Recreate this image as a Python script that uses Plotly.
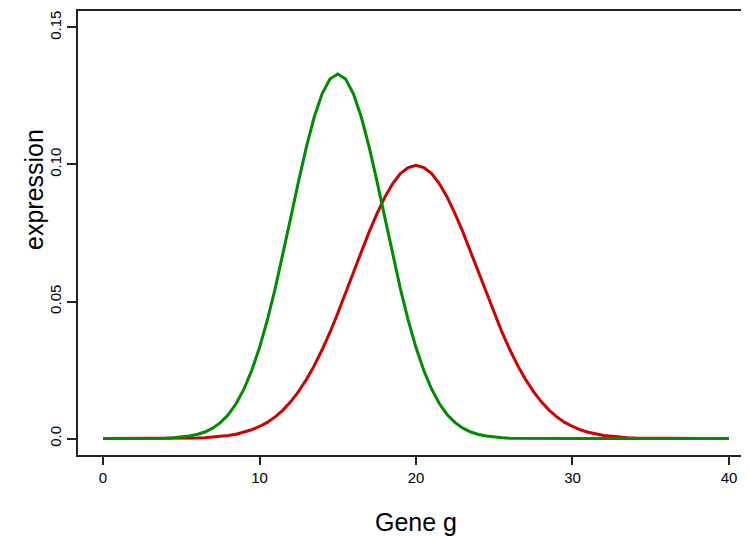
import plotly.graph_objects as go

# gene position (0 to 40, step 0.5)
gene_pos = [i * 0.5 for i in range(81)]

expr_green = [
    0.0, 0.0, 0.0, 0.0, 0.00001, 0.00002, 0.00004, 0.0001, 0.00015, 0.0003,
    0.0005, 0.0009, 0.0015, 0.0024, 0.0038, 0.0058, 0.0087, 0.0127, 0.018, 0.0248,
    0.0332, 0.0432, 0.0547, 0.0673, 0.0807, 0.0940, 0.1065, 0.1174, 0.1258, 0.1312,
    0.1330,
    0.1312, 0.1258, 0.1174, 0.1065, 0.0940, 0.0807, 0.0673, 0.0547, 0.0432, 0.0332,
    0.0248, 0.018, 0.0127, 0.0087, 0.0058, 0.0038, 0.0024, 0.0015, 0.0009, 0.0005,
    0.0003, 0.00015, 0.0001, 0.00004, 0.00002, 0.00001,
    0.0, 0.0, 0.0, 0.0, 0.0, 0.0, 0.0, 0.0, 0.0, 0.0, 0.0, 0.0,
    0.0, 0.0, 0.0, 0.0, 0.0, 0.0, 0.0, 0.0, 0.0, 0.0, 0.0, 0.0,
]

expr_red = [
    0.0, 0.0, 0.0, 0.0, 0.0, 0.0,
    0.00001, 0.00002, 0.00003, 0.00005, 0.0001, 0.00014, 0.0002, 0.0003, 0.0005, 0.0008,
    0.0011, 0.0016, 0.0023, 0.0032, 0.0044, 0.0059, 0.0079, 0.0104, 0.0135, 0.0172,
    0.0216, 0.0266, 0.0324, 0.0387, 0.0457, 0.0529, 0.0605, 0.0680, 0.0753, 0.0820,
    0.0880, 0.0929, 0.0967, 0.0989, 0.0997,
    0.0989, 0.0967, 0.0929, 0.0880, 0.0820, 0.0753, 0.0680, 0.0605, 0.0529, 0.0457,
    0.0387, 0.0324, 0.0266, 0.0216, 0.0172, 0.0135, 0.0104, 0.0079, 0.0059, 0.0044,
    0.0032, 0.0023, 0.0016, 0.0011, 0.0008, 0.0005, 0.0003, 0.0002, 0.00014, 0.0001,
    0.00005, 0.00003, 0.00002, 0.00001,
    0.0, 0.0, 0.0, 0.0, 0.0, 0.0,
]

x_ticks = [0, 10, 20, 30, 40]
x_tick_labels = ["0", "10", "20", "30", "40"]
y_ticks = [0.0, 0.05, 0.10, 0.15]
y_tick_labels = ["0.0", "0.05", "0.10", "0.15"]

fig = go.Figure()
fig.add_trace(go.Scatter(x=gene_pos, y=expr_red, mode="lines",
                         line=dict(color="#CD0000", width=3)))
fig.add_trace(go.Scatter(x=gene_pos, y=expr_green, mode="lines",
                         line=dict(color="#008B00", width=3)))

font = "Liberation Sans, Arial, sans-serif"
# page body has an 8px margin, so the figure is offset by 8px
W, H = 741, 529
L, T = 70, 3
B = H - (455 - 8)
fig.update_layout(
    width=W, height=H,
    margin=dict(l=L, r=0, t=T, b=B),
    plot_bgcolor="white", paper_bgcolor="white",
    showlegend=False,
    font=dict(family=font, color="black", size=15),
    xaxis=dict(range=[-1.6, 41.28], tickvals=x_ticks, ticktext=x_tick_labels,
               showgrid=False, zeroline=False, showline=True, mirror=True,
               linecolor="#222", linewidth=1.5, ticks="outside", ticklen=8,
               tickcolor="#222", tickwidth=1.5, tickfont=dict(size=15)),
    yaxis=dict(range=[-0.006, 0.156], tickvals=y_ticks, ticktext=y_tick_labels,
               showgrid=False, zeroline=False, showline=True, mirror=False,
               linecolor="#222", linewidth=1.5, ticks="outside", ticklen=9,
               tickcolor="#222", tickwidth=1.5, tickangle=-90, tickfont=dict(size=15)),
    annotations=[
        dict(text="Gene g", xref="paper", yref="paper", x=(416 - 78) / 671, y=0,
             yshift=-67, showarrow=False, font=dict(size=25), yanchor="middle"),
        dict(text="expression", xref="paper", yref="paper", x=0, y=(455 - 190) / 444,
             xshift=-44, showarrow=False, font=dict(size=25), textangle=-90,
             xanchor="center", yanchor="middle"),
    ],
)
fig.write_html("out.html")
